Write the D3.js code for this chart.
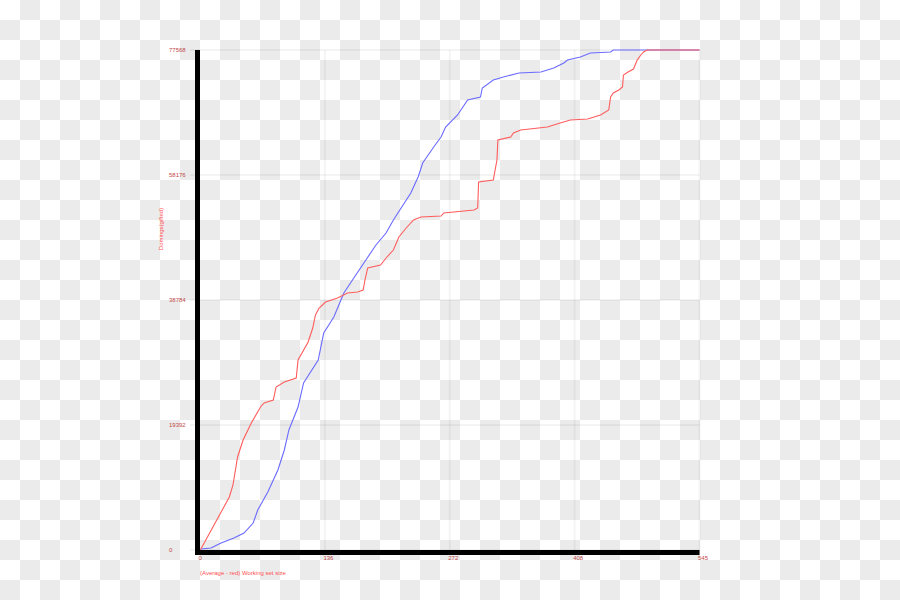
<!DOCTYPE html>
<html>
<head>
<meta charset="utf-8">
<script src="https://cdn.jsdelivr.net/npm/d3@7"></script>
<style>
html,body{margin:0;padding:0;background:#fff;}
svg{display:block;}
text{font-family:"Liberation Sans",Arial,sans-serif;}
</style>
</head>
<body>
<div id="chart"></div>
<script>
// ---- data ----
const xTickValues = [0, 136.25, 272.5, 408.75, 545];
const xTickLabels = ["0", "136", "272", "408", "545"];
const yTickValues = [0, 19392, 38784, 58176, 77568];
const yTickLabels = ["0", "19392", "38784", "58176", "77568"];
const xTitle = "(Average - red) Working set size";
const yTitle = "Domings(gifted)";

// blue series
const blueX = [0,1,12,23,37,48,58,63,74,85,92,97,107,113,129,135,146,157,170,181,192,203,211,230,238,243,255,263,268,281,292,306,308,320,331,348,372,386,397,401,415,426,448,451,545];
const blueY = [0,155,310,1086,1862,2637,4189,6205,8998,12411,15514,18616,22184,25908,29476,33665,36147,39870,42662,44989,47316,49178,51195,55384,57866,60038,62520,64071,65623,67484,69811,70277,71673,72914,73379,74000,74155,74776,75551,76017,76482,77103,77258,77568,77568];
// red series (average)
const redX = [0,1,32,36,41,47,56,66,70,80,83,92,105,107,118,123,126,130,137,150,161,172,178,180,183,197,203,211,217,225,233,241,263,266,299,303,304,320,324,325,339,342,350,379,393,404,423,437,446,448,451,457,461,462,467,473,477,481,484,488,545];
const redY = [0,155,8222,10084,14428,17065,19702,22184,22805,23270,25287,26063,26683,29476,32268,34440,36457,37543,38474,39094,39870,40025,40335,41887,43748,44214,45300,46541,48558,49954,51195,51660,51815,52281,52746,53057,57090,57400,60503,63606,64071,64692,65157,65623,66243,66708,66864,67484,68260,70277,70897,71363,71828,73690,74155,74621,76017,76792,77258,77568,77568];

const W = 900, H = 600;
const svg = d3.select("#chart").append("svg").attr("width", W).attr("height", H);

// checkerboard background
const defs = svg.append("defs");
const pat = defs.append("pattern").attr("id","checker").attr("width",40).attr("height",40)
  .attr("patternUnits","userSpaceOnUse");
pat.append("rect").attr("width",40).attr("height",40).attr("fill","#ffffff");
pat.append("rect").attr("x",20).attr("y",0).attr("width",20).attr("height",20).attr("fill","#ebebeb");
pat.append("rect").attr("x",0).attr("y",20).attr("width",20).attr("height",20).attr("fill","#ebebeb");
svg.append("rect").attr("width",W).attr("height",H).attr("fill","url(#checker)");

const x = d3.scaleLinear().domain([0,545]).range([200,699.5]);
const y = d3.scaleLinear().domain([0,77568]).range([550,50]);

// gridlines
const gridColor = "rgba(0,0,0,0.045)";
svg.append("g").selectAll("line").data(yTickValues).join("line")
  .attr("x1",190).attr("x2",699.5)
  .attr("y1",d=>y(d)).attr("y2",d=>y(d))
  .attr("stroke",gridColor).attr("stroke-width",2);
svg.append("g").selectAll("line").data(xTickValues.slice(1)).join("line")
  .attr("x1",d=>x(d)).attr("x2",d=>x(d))
  .attr("y1",50).attr("y2",555)
  .attr("stroke",gridColor).attr("stroke-width",2);

// lines
const line = d3.line().x(d=>x(d[0])).y(d=>y(d[1]));
svg.append("path").datum(d3.zip(blueX, blueY)).attr("d", line)
  .attr("fill","none").attr("stroke","#6a6aff").attr("stroke-width",1.1);
svg.append("path").datum(d3.zip(redX, redY)).attr("d", line)
  .attr("fill","none").attr("stroke","#ff5c5c").attr("stroke-width",1.1);

// axes (thick black)
svg.append("line").attr("x1",197.5).attr("x2",197.5).attr("y1",50).attr("y2",555)
  .attr("stroke","#000").attr("stroke-width",5);
svg.append("line").attr("x1",195).attr("x2",699.5).attr("y1",552.5).attr("y2",552.5)
  .attr("stroke","#000").attr("stroke-width",5);

// y tick labels
svg.append("g").selectAll("text").data(yTickValues).join("text")
  .attr("x",169).attr("y",d=>y(d)+2)
  .attr("font-size",6).attr("fill","#c04848")
  .text((d,i)=>yTickLabels[i]);

// x tick labels
svg.append("g").selectAll("text").data(xTickValues).join("text")
  .attr("x",d=>x(d)-1.5).attr("y",560)
  .attr("font-size",6).attr("fill","#c04848")
  .text((d,i)=>xTickLabels[i]);

// titles
svg.append("text").attr("x",200).attr("y",575)
  .attr("font-size",6).attr("fill","#ff5050").text(xTitle);
svg.append("text").attr("transform","translate(163,229) rotate(-90)")
  .attr("text-anchor","middle")
  .attr("font-size",6).attr("fill","#ff5050").text(yTitle);
</script>
</body>
</html>
